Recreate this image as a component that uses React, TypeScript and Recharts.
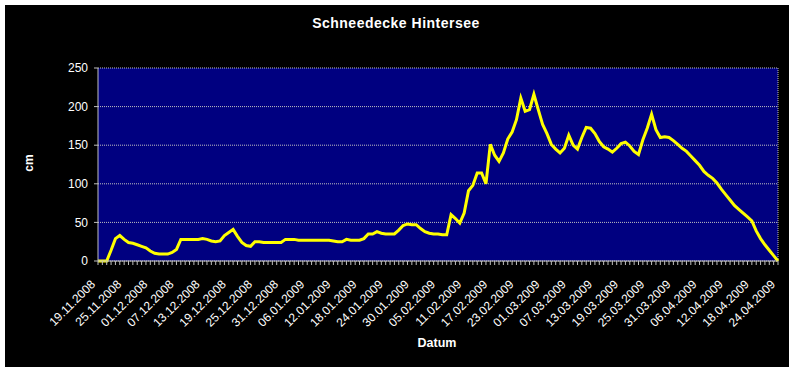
import React from 'react';
import { LineChart, Line, XAxis, YAxis, CartesianGrid, ReferenceLine } from 'recharts';

const chartTitle = 'Schneedecke Hintersee';
const yAxisTitle = 'cm';
const xAxisTitle = 'Datum';

// first day of the series: 19.11.2008, one value per day
const startYear = 2008;
const startMonthIndex = 10;
const startDay = 19;

const snowDepth = [
  0, 0, 0, 14, 29, 33, 28, 24, 23, 21,
  19, 17, 13, 10, 9, 9, 9, 11, 15, 28,
  28, 28, 28, 28, 29, 28, 26, 25, 26, 33,
  37, 41, 32, 24, 20, 19, 25, 25, 24, 24,
  24, 24, 24, 28, 28, 28, 27, 27, 27, 27,
  27, 27, 27, 27, 26, 25, 25, 28, 27, 27,
  27, 29, 35, 35, 38, 36, 35, 35, 35, 40,
  46, 48, 47, 47, 42, 38, 36, 35, 35, 34,
  34, 60, 55, 49, 62, 91, 98, 114, 114, 100,
  151, 137, 129, 140, 158, 167, 183, 211, 194, 196,
  216, 196, 177, 165, 151, 145, 140, 146, 163, 150,
  145, 160, 173, 172, 165, 155, 148, 145, 141, 146,
  152, 154, 149, 142, 138, 157, 172, 190, 170, 160,
  161, 160, 156, 151, 146, 142, 136, 130, 124, 116,
  111, 107, 101, 93, 86, 79, 72, 67, 62, 57,
  52, 39, 29, 21, 14, 7, 0,
];

const yTicks = [0, 50, 100, 150, 200, 250];
const labelEvery = 6;

const pad = (n: number) => (n < 10 ? '0' + n : '' + n);
const dates = snowDepth.map((_, i) => {
  const d = new Date(Date.UTC(startYear, startMonthIndex, startDay + i));
  return `${pad(d.getUTCDate())}.${pad(d.getUTCMonth() + 1)}.${d.getUTCFullYear()}`;
});

const data = dates.map((date, i) => ({ date, cm: snowDepth[i] }));

const FONT = '"Liberation Sans", Arial, sans-serif';

const DateTick = (props: any) => {
  const { x, y, payload, index } = props;
  if (index % labelEvery !== 0) return <g />;
  return (
    <g transform={`translate(${x - 5},${y + 15})`}>
      <text
        x={0}
        y={0}
        dy="0.35em"
        textAnchor="end"
        transform="rotate(-45)"
        fill="#ffffff"
        fontSize={12}
        fontFamily={FONT}
      >
        {payload.value}
      </text>
    </g>
  );
};

export default function App() {
  return (
    <div
      style={{
        position: 'absolute',
        left: 5,
        top: 5,
        width: 784,
        height: 362,
        background: '#000000',
        fontFamily: FONT,
      }}
    >
      <div
        style={{
          position: 'absolute',
          left: 0,
          width: 782,
          top: 10,
          textAlign: 'center',
          color: '#ffffff',
          fontWeight: 'bold',
          fontSize: 14,
          letterSpacing: 0.5,
        }}
      >
        {chartTitle}
      </div>
      <div
        style={{
          position: 'absolute',
          left: 24,
          top: 158,
          transform: 'translate(-50%, -50%) rotate(-90deg)',
          color: '#ffffff',
          fontWeight: 'bold',
          fontSize: 12,
        }}
      >
        {yAxisTitle}
      </div>
      <div
        style={{
          position: 'absolute',
          left: 432,
          top: 338,
          transform: 'translate(-50%, -50%)',
          color: '#ffffff',
          fontWeight: 'bold',
          fontSize: 12.5,
        }}
      >
        {xAxisTitle}
      </div>
      <LineChart
        width={784}
        height={362}
        data={data}
        margin={{ top: 63, right: 11, bottom: 26, left: 0 }}
      >
        <CartesianGrid
          vertical={false}
          fill="#000080"
          stroke="#c0c0c0"
          strokeDasharray="1 1"
        />
        <XAxis
          dataKey="date"
          interval={0}
          tick={<DateTick />}
          tickSize={4}
          tickLine={{ stroke: '#c0c0c0' }}
          axisLine={{ stroke: '#c0c0c0' }}
          height={80}
        />
        <YAxis
          domain={[0, 250]}
          ticks={yTicks}
          width={93}
          tickSize={4}
          tickMargin={6}
          tick={{ fill: '#ffffff', fontSize: 12, fontFamily: FONT }}
          tickLine={{ stroke: '#c0c0c0' }}
          axisLine={{ stroke: '#c0c0c0' }}
        />
        <ReferenceLine x={dates[dates.length - 1]} stroke="#c0c0c0" strokeDasharray="1 1" />
        <Line
          type="linear"
          dataKey="cm"
          stroke="#ffff00"
          strokeWidth={3}
          dot={false}
          isAnimationActive={false}
        />
      </LineChart>
    </div>
  );
}
